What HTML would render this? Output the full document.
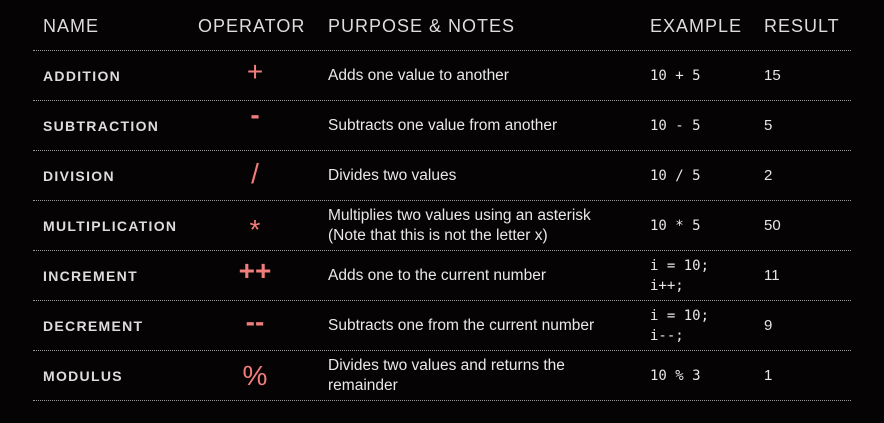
<!DOCTYPE html>
<html><head><style>
body{margin:0;width:884px;height:423px;background:#050304;overflow:hidden;position:relative;font-family:"Liberation Sans",sans-serif;color:#e6e6e6}
.a{position:absolute;white-space:nowrap}
.h{font-size:18px;letter-spacing:1px;color:#ddd;top:16px}
.n{left:43px;font-size:14px;font-weight:bold;letter-spacing:1.3px;color:#ddd}
.o{left:215px;width:80px;text-align:center;color:#f07c7c;font-size:28px}
.p{left:328px;font-size:15.5px;line-height:20px;color:#e8e8e8}
.e{left:650px;font-family:"DejaVu Sans Mono","Liberation Mono",monospace;font-size:14px;line-height:20px}
.r{left:764px;font-size:15px}
.l{position:absolute;left:33px;width:818px;border-top:1px dotted #999;height:0}
</style></head><body>
<div class="a h" style="left:43px">NAME</div>
<div class="a h" style="left:198px">OPERATOR</div>
<div class="a h" style="left:328px">PURPOSE &amp; NOTES</div>
<div class="a h" style="left:650px">EXAMPLE</div>
<div class="a h" style="left:764px">RESULT</div>
<div class="l" style="top:50px"></div><div class="l" style="top:100px"></div><div class="l" style="top:150px"></div><div class="l" style="top:200px"></div><div class="l" style="top:250px"></div><div class="l" style="top:300px"></div><div class="l" style="top:350px"></div><div class="l" style="top:400px"></div>

<div class="a n" style="top:68px">ADDITION</div>
<div class="a o" style="top:56px">+</div>
<div class="a p" style="top:66px">Adds one value to another</div>
<div class="a e" style="top:66px">10 + 5</div>
<div class="a r" style="top:67px">15</div>

<div class="a n" style="top:118px">SUBTRACTION</div>
<div class="a o" style="top:99px;font-weight:bold">-</div>
<div class="a p" style="top:116px">Subtracts one value from another</div>
<div class="a e" style="top:116px">10 - 5</div>
<div class="a r" style="top:117px">5</div>

<div class="a n" style="top:168px">DIVISION</div>
<div class="a o" style="top:158px">/</div>
<div class="a p" style="top:166px">Divides two values</div>
<div class="a e" style="top:166px">10 / 5</div>
<div class="a r" style="top:167px">2</div>

<div class="a n" style="top:218px">MULTIPLICATION</div>
<div class="a o" style="top:214px">*</div>
<div class="a p" style="top:206px">Multiplies two values using an asterisk<br>(Note that this is not the letter x)</div>
<div class="a e" style="top:216px">10 * 5</div>
<div class="a r" style="top:217px">50</div>

<div class="a n" style="top:268px">INCREMENT</div>
<div class="a o" style="top:255px;font-weight:bold">++</div>
<div class="a p" style="top:266px">Adds one to the current number</div>
<div class="a e" style="top:256px">i = 10;<br>i++;</div>
<div class="a r" style="top:267px">11</div>

<div class="a n" style="top:318px">DECREMENT</div>
<div class="a o" style="top:306px;font-weight:bold">--</div>
<div class="a p" style="top:316px">Subtracts one from the current number</div>
<div class="a e" style="top:306px">i = 10;<br>i--;</div>
<div class="a r" style="top:317px">9</div>

<div class="a n" style="top:368px">MODULUS</div>
<div class="a o" style="top:360px">%</div>
<div class="a p" style="top:356px">Divides two values and returns the<br>remainder</div>
<div class="a e" style="top:366px">10 % 3</div>
<div class="a r" style="top:367px">1</div>
</body></html>
